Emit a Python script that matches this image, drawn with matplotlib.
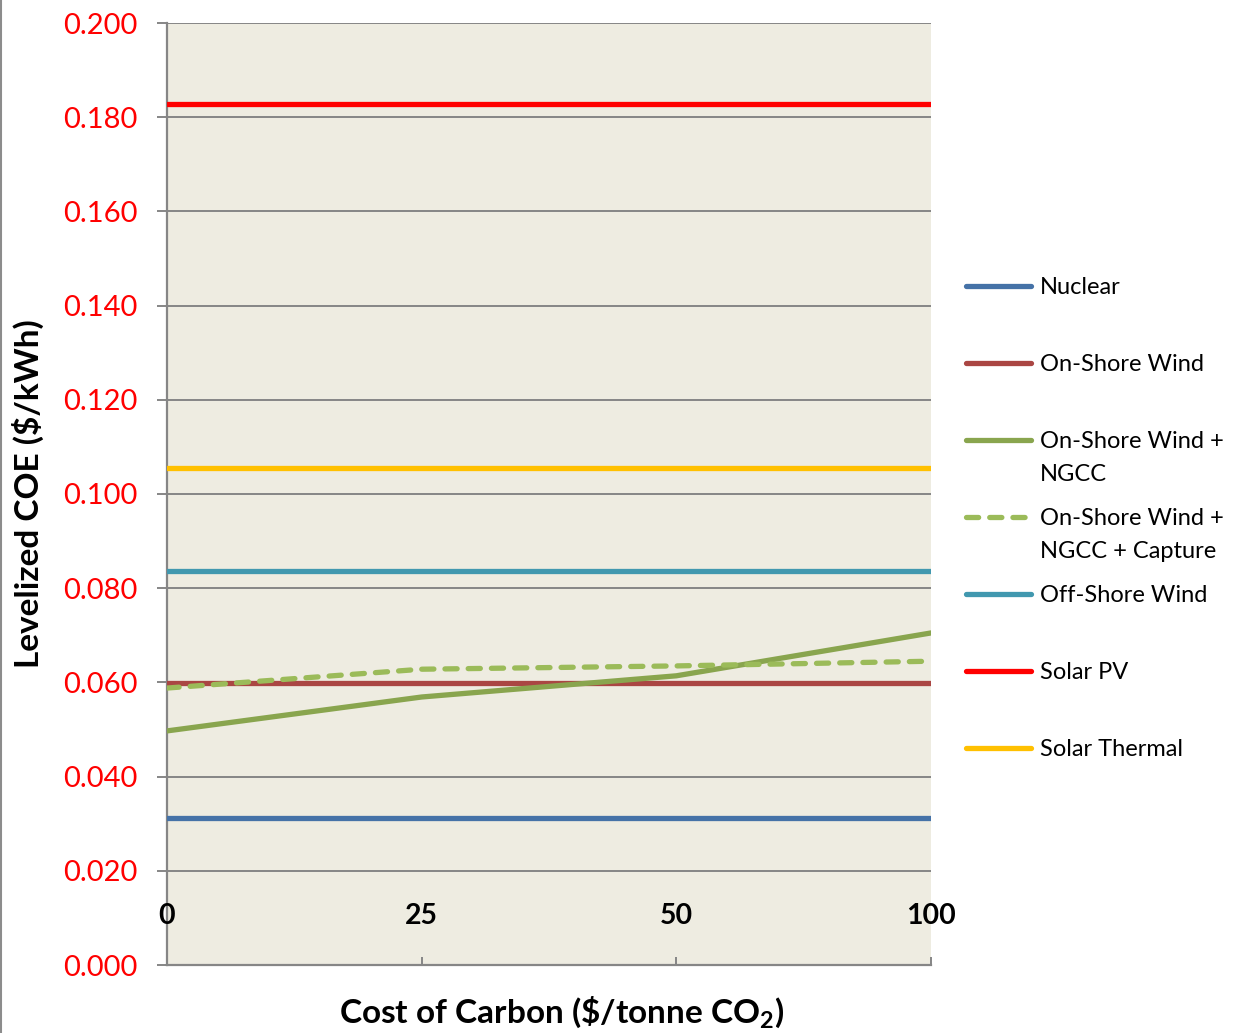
import matplotlib
matplotlib.use('Agg')
import matplotlib.pyplot as plt
from matplotlib.lines import Line2D

plt.rcParams['font.family'] = ['Lato', 'DejaVu Sans']
plt.rcParams['mathtext.fontset'] = 'custom'
plt.rcParams['mathtext.bf'] = 'Lato:bold'

# carbon price categories ($/tonne CO2)
carbon_costs = ['0', '25', '50', '100']

# levelized cost of electricity ($/kWh) for each technology
nuclear = [0.0312, 0.0312, 0.0312, 0.0312]
onshore_wind = [0.0598, 0.0598, 0.0598, 0.0598]
onshore_ngcc = [0.0497, 0.0569, 0.0614, 0.0705]
onshore_ngcc_capture = [0.0588, 0.0628, 0.0635, 0.0645]
offshore_wind = [0.0837, 0.0837, 0.0837, 0.0837]
solar_pv = [0.1829, 0.1829, 0.1829, 0.1829]
solar_thermal = [0.1056, 0.1056, 0.1056, 0.1056]

series = [
    ('Nuclear', nuclear, '#4572A7', '-'),
    ('On-Shore Wind', onshore_wind, '#AA4643', '-'),
    ('On-Shore Wind +\nNGCC', onshore_ngcc, '#89A54E', '-'),
    ('On-Shore Wind +\nNGCC + Capture', onshore_ngcc_capture, '#9BBB59', '--'),
    ('Off-Shore Wind', offshore_wind, '#4198AF', '-'),
    ('Solar PV', solar_pv, '#FF0000', '-'),
    ('Solar Thermal', solar_thermal, '#FFC000', '-'),
]

W, H = 1233, 1033
fig = plt.figure(figsize=(W / 100, H / 100), dpi=100)
ax = fig.add_axes([167 / W, 1 - 965 / H, (931 - 167) / W, (965 - 23) / H])
ax.set_facecolor('#EEECE1')

grid_col = '#868686'
x = list(range(len(carbon_costs)))
for name, vals, col, ls in series:
    ln, = ax.plot(x, vals, color=col, lw=3.8, solid_capstyle='round', zorder=3)
    if ls == '--':
        ln.set_dashes((2.3, 2.1))
        ln.set_dash_capstyle('round')

ax.set_xlim(0, len(carbon_costs) - 1)
ax.set_ylim(0, 0.2)
ax.set_yticks([i * 0.02 for i in range(11)])
ax.set_yticklabels(['%.3f' % (i * 0.02) for i in range(11)])
ax.yaxis.grid(True, color=grid_col, lw=1.4)
ax.set_axisbelow(True)

for s in ('top', 'right'):
    ax.spines[s].set_visible(False)
for s in ('left', 'bottom'):
    ax.spines[s].set_color(grid_col)
    ax.spines[s].set_linewidth(1.6)

ax.tick_params(axis='y', colors=grid_col, length=7, width=1.4, pad=14,
               labelsize=21, labelcolor='#FF0000')
ax.set_xticks(x)
ax.set_xticklabels([])
ax.tick_params(axis='x', direction='in', colors=grid_col, length=6, width=1.4)

# category labels sit inside the plot area, above the bottom axis
for xi, lab in zip(x, carbon_costs):
    ax.text(xi, (965 - 916) / (965 - 23), lab, transform=ax.get_xaxis_transform(),
            ha='center', va='center', fontsize=20.5, fontweight='bold', color='black',
            zorder=4)

fig.text(28 / W, 1 - 494 / H, 'Levelized COE ($/kWh)', rotation=90,
         ha='center', va='center', fontsize=24, fontweight='bold')
fig.text(562 / W, 1 - 1013 / H, r'Cost of Carbon (\$/tonne CO$_\mathbf{2}$)',
         ha='center', va='center', fontsize=24, fontweight='bold')

# legend drawn by hand: handle aligned with the first text line
y0, step = 286, 77
for i, (name, vals, col, ls) in enumerate(series):
    yy = 1 - (y0 + i * step) / H
    h = Line2D([966 / W, 1031 / W], [yy, yy], transform=fig.transFigure,
               color=col, lw=3.8, solid_capstyle='round')
    if ls == '--':
        h.set_dashes((2.3, 2.1))
        h.set_dash_capstyle('round')
    fig.add_artist(h)
    fig.text(1040 / W, yy + 9 / H, name, ha='left', va='top', fontsize=17,
             linespacing=1.7)

# chart frame edge on the left
fig.add_artist(Line2D([1 / W, 1 / W], [0, 1], transform=fig.transFigure,
                      color='#8C8C8C', lw=1.5))

fig.savefig('out.png', dpi=100)
